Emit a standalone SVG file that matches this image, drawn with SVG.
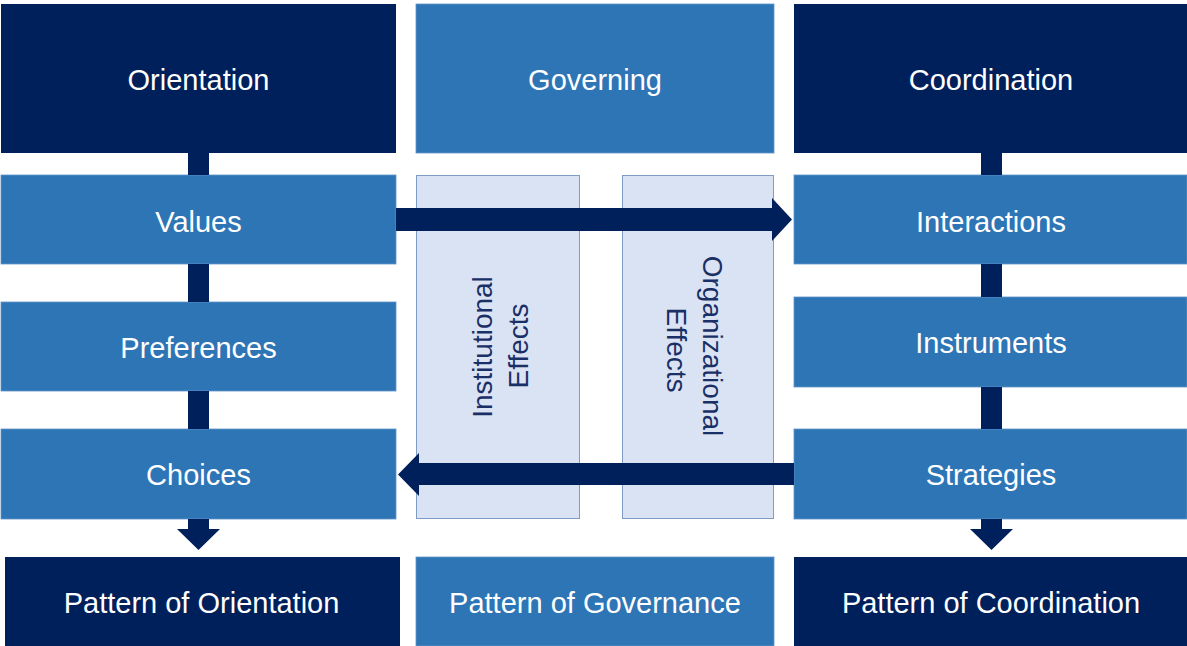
<svg xmlns="http://www.w3.org/2000/svg" width="1187" height="646" viewBox="0 0 1187 646">
  <style>
    .dark { fill: #00205b; }
    .mid { fill: #2e75b6; stroke: #5f95c9; stroke-width: 0.8; }
    .panel { fill: #dae3f3; stroke: #7f9cc4; stroke-width: 1; }
    .lbl { font-family: "Liberation Sans", Arial, sans-serif; font-size: 29px; fill: #ffffff; text-anchor: middle; font-weight: 300; }
    .vlbl { font-family: "Liberation Sans", Arial, sans-serif; font-size: 28px; fill: #1a2f66; text-anchor: middle; font-weight: 300; }
    .conn { fill: #00205b; }
  </style>
  <rect width="1187" height="646" fill="#ffffff"/>

  <!-- left column: orientation -->
  <g id="orientation">
    <rect class="dark" x="1" y="4" width="395" height="149"/>
    <text class="lbl" x="198.5" y="89.5">Orientation</text>
  </g>
  <g id="values">
    <rect class="mid" x="1" y="175" width="395" height="89"/>
    <text class="lbl" x="198.5" y="231.5">Values</text>
  </g>
  <g id="preferences">
    <rect class="mid" x="1" y="302" width="395" height="89"/>
    <text class="lbl" x="198.5" y="357.5">Preferences</text>
  </g>
  <g id="choices">
    <rect class="mid" x="1" y="429" width="395" height="90"/>
    <text class="lbl" x="198.5" y="485">Choices</text>
  </g>
  <g id="pattern-orientation">
    <rect class="dark" x="5" y="557" width="395" height="89"/>
    <text class="lbl" x="201.5" y="613">Pattern of Orientation</text>
  </g>

  <!-- middle column: governing -->
  <g id="governing">
    <rect class="mid" x="416" y="4" width="358" height="149"/>
    <text class="lbl" x="595" y="89.5">Governing</text>
  </g>
  <g id="institutional-effects">
    <rect class="panel" x="416.5" y="175.5" width="163" height="343"/>
    <text class="vlbl" transform="translate(492 347) rotate(-90)">Institutional</text>
    <text class="vlbl" transform="translate(528 346) rotate(-90)">Effects</text>
  </g>
  <g id="organizational-effects">
    <rect class="panel" x="622.5" y="175.5" width="151" height="343"/>
    <text class="vlbl" transform="translate(703 346) rotate(90)">Organizational</text>
    <text class="vlbl" transform="translate(667 350) rotate(90)">Effects</text>
  </g>
  <g id="pattern-governance">
    <rect class="mid" x="416" y="557" width="358" height="89"/>
    <text class="lbl" x="595" y="613">Pattern of Governance</text>
  </g>

  <!-- right column: coordination -->
  <g id="coordination">
    <rect class="dark" x="794" y="4" width="393" height="149"/>
    <text class="lbl" x="991" y="89.5">Coordination</text>
  </g>
  <g id="interactions">
    <rect class="mid" x="794" y="175" width="393" height="89"/>
    <text class="lbl" x="991" y="231.5">Interactions</text>
  </g>
  <g id="instruments">
    <rect class="mid" x="794" y="297" width="393" height="90"/>
    <text class="lbl" x="991" y="353">Instruments</text>
  </g>
  <g id="strategies">
    <rect class="mid" x="794" y="429" width="393" height="90"/>
    <text class="lbl" x="991" y="485">Strategies</text>
  </g>
  <g id="pattern-coordination">
    <rect class="dark" x="794" y="557" width="393" height="89"/>
    <text class="lbl" x="991" y="613">Pattern of Coordination</text>
  </g>

  <!-- connectors -->
  <g id="connectors">
    <!-- left column links -->
    <rect class="conn" x="188" y="153" width="21" height="22"/>
    <rect class="conn" x="188" y="264" width="21" height="38"/>
    <rect class="conn" x="188" y="391" width="21" height="38"/>
    <path class="conn" d="M188 519 H209 V529 H220 L198.5 550 L177 529 H188 Z"/>
    <!-- right column links -->
    <rect class="conn" x="981" y="153" width="21" height="22"/>
    <rect class="conn" x="981" y="264" width="21" height="33"/>
    <rect class="conn" x="981" y="387" width="21" height="42"/>
    <path class="conn" d="M981 519 H1002 V529 H1013 L991.5 550 L970 529 H981 Z"/>
    <!-- values to interactions -->
    <path class="conn" d="M396 208 H772 V198 L792 219.5 L772 241 V231 H396 Z"/>
    <!-- strategies to choices -->
    <path class="conn" d="M794 463 H419 V453 L398 474.5 L419 496 V485 H794 Z"/>
  </g>
</svg>
